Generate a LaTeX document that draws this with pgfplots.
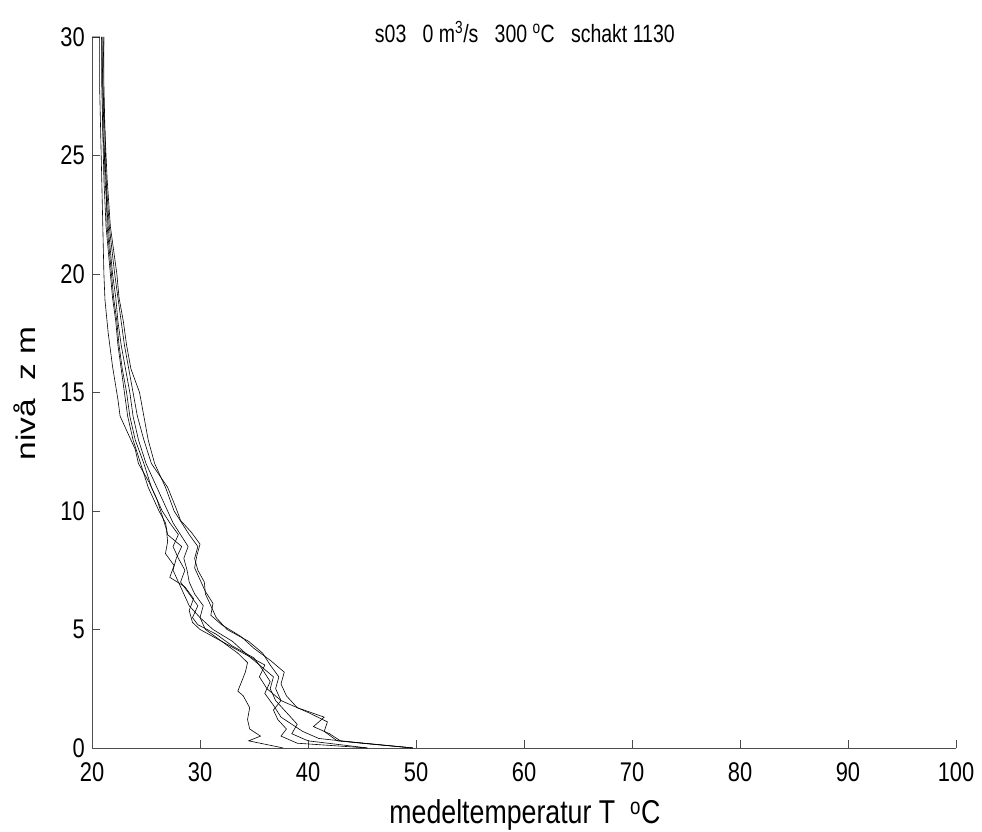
\documentclass[border=0pt]{standalone}
\usepackage{pgfplots}
\pgfplotsset{compat=1.18}
\usepackage{fontspec}
\setmainfont{Liberation Sans}
\newfontfamily\cond[FakeStretch=0.81]{Liberation Sans}
\newfontfamily\condt[FakeStretch=0.78]{Liberation Sans}
\newfontfamily\wide[FakeStretch=1.24]{Liberation Sans}
\begin{document}
\begin{tikzpicture}
\begin{axis}[
  scale only axis,
  width=864pt, height=711pt,
  xmin=20, xmax=100, ymin=0, ymax=30,
  axis x line*=bottom, axis y line*=left,
  axis line style={-, line width=0.6pt, black!70},
  xtick={20,30,...,100}, ytick={0,5,...,30},
  tick align=inside, major tick length=8pt,
  tick style={black!70, line width=0.6pt},
  tick label style={font=\cond\fontsize{27}{30}\selectfont, inner sep=0pt},
  /pgf/number format/assume math mode=true,
  xticklabel style={yshift=-14pt},
  yticklabel style={xshift=-7pt},
  clip=false,
]
\addplot[black, line width=0.6pt] coordinates {
(37.7,0) (34.5,0.3) (35.6,0.5) (34.6,0.8) (34.4,1.2) (34.6,1.7) (34.0,2.2) (33.5,2.4) (34.2,3.2) (34.4,3.6) (33.5,4.0) (32.0,4.5) (30.0,5.0) (29.3,5.3) (29.0,5.8) (29.4,6.3) (28.6,6.8) (27.2,7.2) (27.6,7.7) (26.8,8.2) (27.0,8.7) (26.9,9.2) (26.5,9.8) (26.0,10.5) (25.3,11.2) (24.3,12) (24.0,12.6) (23.3,13.3) (22.6,14.0) (22.4,14.7) (21.9,16.1) (21.5,17.5) (21.2,18.9) (21.1,20) (21.0,22) (20.9,24) (20.8,26) (20.7,28) (20.7,30) (20.0,30)
};
\addplot[black, line width=0.6pt] coordinates {
(49.7,0) (42.7,0.3) (41.5,0.7) (41.8,1.1) (40.0,1.5) (37.5,2.0) (37.0,2.5) (37.3,3.0) (36.5,3.5) (35.8,4.0) (34.5,4.5) (32.5,5.0) (31.5,5.5) (31.0,6.0) (30.5,6.5) (30.4,7.0) (29.8,7.5) (29.5,8.0) (29.8,8.5) (29.0,9.0) (28.3,9.5) (27.6,10) (26.8,11) (25.8,12) (25.2,13) (24.8,14) (24.4,15) (23.6,16) (23.2,17) (22.9,18) (22.5,19) (22.3,20) (21.7,22) (21.4,24) (21.2,26) (21.1,28) (21.1,30)
};
\addplot[black, line width=0.6pt] coordinates {
(45.5,0) (40.0,0.3) (38.5,0.6) (39.0,1.0) (38.0,1.5) (37.0,2.0) (36.5,2.5) (36.8,3.0) (35.5,3.5) (34.2,4.0) (33.0,4.5) (31.2,5.0) (30.0,5.5) (30.3,6.0) (29.5,6.5) (29.0,7.0) (28.8,7.5) (28.5,8.0) (28.9,8.5) (28.2,9.0) (27.5,9.5) (27.0,10) (26.0,11) (25.0,12) (24.3,13) (23.8,14) (23.5,15) (23.1,16) (22.7,17) (22.4,18) (22.2,19) (21.9,20) (21.5,22) (21.2,24) (21.1,26) (21.0,28) (21.0,30)
};
\addplot[black, line width=0.6pt] coordinates {
(49.7,0) (45.0,0.2) (41.0,0.4) (39.5,0.7) (38.5,1.0) (37.5,1.3) (36.8,1.8) (36.0,2.3) (36.5,2.8) (35.8,3.3) (35.0,3.8) (33.0,4.3) (31.5,4.8) (29.8,5.2) (29.3,5.5) (29.8,6.0) (29.0,6.5) (28.2,7.0) (28.6,7.5) (28.0,8.0) (27.5,8.5) (28.0,9.0) (27.2,9.5) (26.5,10) (25.5,11) (24.8,12) (24.0,13) (23.5,14) (23.2,15) (22.8,16) (22.5,17) (22.3,18) (22.0,19) (21.8,20) (21.4,22) (21.3,24) (21.0,26) (21.0,28) (20.9,30)
};
\addplot[black, line width=0.6pt] coordinates {
(49.7,0) (43.0,0.3) (42.0,0.6) (40.5,0.9) (41.5,1.3) (39.0,1.7) (38.0,2.2) (37.5,2.7) (37.8,3.2) (36.5,3.7) (35.0,4.2) (33.8,4.7) (32.0,5.2) (31.0,5.6) (31.2,6.1) (30.5,6.6) (30.0,7.1) (29.5,7.6) (29.7,8.1) (30.0,8.6) (29.2,9.1) (28.2,9.6) (27.8,10.1) (27.0,11) (25.5,12) (24.8,13) (24.2,14) (23.8,15) (23.4,16) (23.0,17) (22.7,18) (22.4,19) (22.1,20) (21.6,22) (21.3,24) (21.2,26) (21.0,28) (21.1,30)
};
\addplot[black, line width=0.6pt] coordinates {
(45.5,0) (39.0,0.2) (37.5,0.5) (38.0,0.8) (37.2,1.2) (36.8,1.6) (37.5,2.0) (36.2,2.5) (35.5,3.0) (36.0,3.5) (34.0,4.0) (32.0,4.5) (30.5,5.0) (30.0,5.5) (29.0,6.0) (28.5,6.5) (28.0,7.0) (27.5,7.5) (27.8,8.0) (28.3,8.5) (27.0,9.0) (26.8,9.5) (26.2,10) (25.2,11) (24.5,12) (23.8,13) (23.3,14) (23.0,15) (22.7,16) (22.4,17) (22.2,18) (21.9,19) (21.7,20) (21.3,22) (21.1,24) (21.0,26) (20.9,28) (20.9,30)
};
\node[font=\condt\fontsize{25}{28}\selectfont] at (rel axis cs:0.501,1.0070) {s03~~~0 m\textsuperscript{3}/s~~~300 \textsuperscript{o}C~~~schakt 1130};
\node[font=\cond\fontsize{33}{36}\selectfont] at (rel axis cs:0.501,-0.0942) {medeltemperatur T~~\textsuperscript{o}C};
\node[font=\wide\fontsize{27}{30}\selectfont, rotate=90] at (rel axis cs:-0.0775,0.499) {nivå~~z m};
\coordinate (bl) at (rel axis cs:-0.1065,-0.1181);
\coordinate (tr) at (rel axis cs:1.0301,1.0520);
\end{axis}
\pgfresetboundingbox
\path (bl) rectangle (tr);
\end{tikzpicture}
\end{document}
